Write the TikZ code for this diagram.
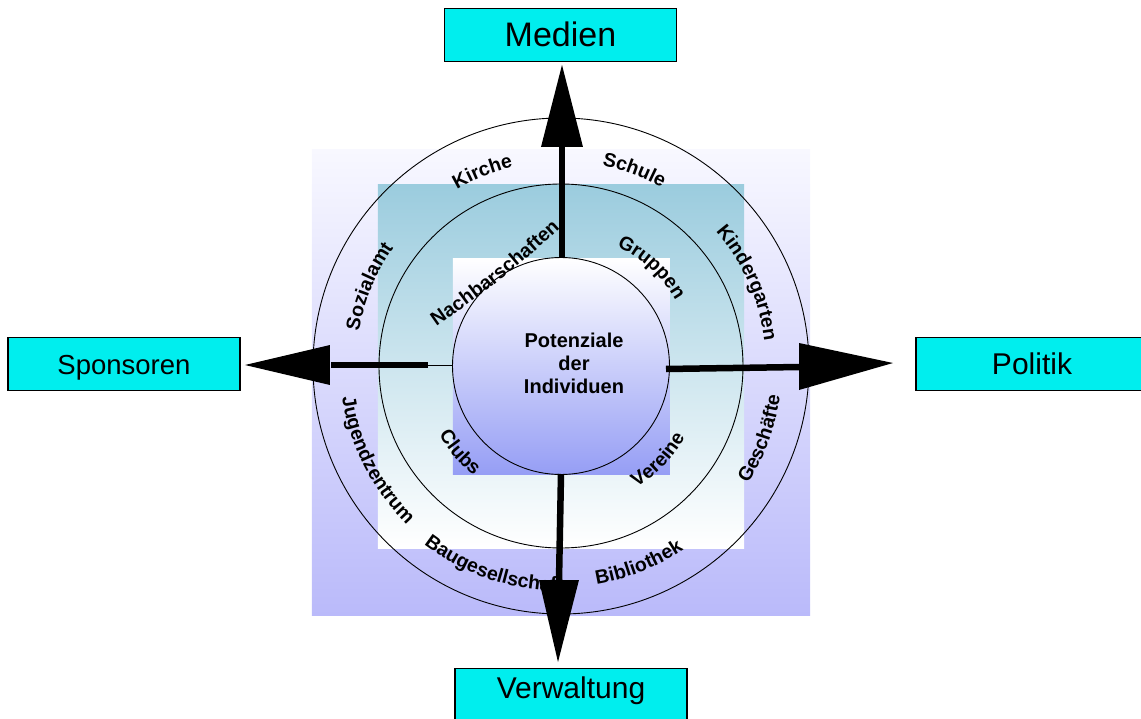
\documentclass[tikz,border=0pt]{standalone}
\usepackage{fontspec}
\setmainfont{Liberation Sans}
\usetikzlibrary{decorations.text}
\definecolor{boxcyan}{RGB}{0,238,238}
\definecolor{outertop}{RGB}{248,248,255}
\definecolor{outerbot}{RGB}{186,186,250}
\definecolor{midtop}{RGB}{155,204,222}
\definecolor{innerbot}{RGB}{150,158,245}
\newcommand\lblfont{\bfseries\fontsize{19.5}{20}\selectfont}
\tikzset{
  ring/.style={draw=black, line width=0.9pt},
  arclbl/.style={decorate, decoration={text along path, text={|\lblfont|#1}, text align=center}},
  shaft/.style={line width=6.5pt, black},
  head/.style={fill=black},
  outbox/.style={draw=black, line width=1.1pt, fill=boxcyan,
    minimum width=232pt, minimum height=53pt, text height=21.5pt, text depth=0pt, inner sep=0pt},
}
\begin{document}
\begin{tikzpicture}[x=1pt,y=1pt]
\useasboundingbox (-561,-352) rectangle (580,366);
% squares
\shade[top color=outertop, bottom color=outerbot] (-249,216) rectangle (249,-249);
\shade[top color=midtop, bottom color=white] (-183,181) rectangle (183,-182);
\shade[top color=white, bottom color=innerbot] (-108,108) rectangle (109,-108);
% circles
\node[ring, circle, minimum size=496pt, inner sep=0pt] (outer) at (0,0) {};
\node[ring, circle, minimum size=364pt, inner sep=0pt] (middle) at (0,0) {};
\node[ring, circle, minimum size=217pt, inner sep=0pt] (inner) at (0,0) {};
% centre text
\node[font=\bfseries\fontsize{20}{23}\selectfont, align=center] (pot) at (13,3) {Potenziale\\der\\Individuen};
% outer ring labels, upper half
\path[arclbl=Sozialamt] (185.5:205) arc[start angle=185.5, end angle=129.5, radius=205];
\path[arclbl=Kirche] (140:205) arc[start angle=140, end angle=84, radius=205];
\path[arclbl=Schule] (97.5:205) arc[start angle=97.5, end angle=41.5, radius=205];
\path[arclbl=Kindergarten] (52:205) arc[start angle=52, end angle=-4, radius=205];
% outer ring labels, lower half
\path[arclbl=Jugendzentrum] (179:221) arc[start angle=179, end angle=235, radius=221];
\path[arclbl=Baugesellschaft] (223.5:225) arc[start angle=223.5, end angle=279.5, radius=225];
\path[arclbl=Bibliothek] (263.5:221) arc[start angle=263.5, end angle=319.5, radius=221];
\path[arclbl=Geschäfte] (312:221) arc[start angle=312, end angle=368, radius=221];
% middle ring labels
\path[arclbl=Nachbarschaften] (-131,35) to[bend right=4] (5,143);
\path[arclbl=Gruppen] (77.4:132) arc[start angle=77.4, end angle=17.4, radius=132];
\path[arclbl=Clubs] (190.5:140) arc[start angle=190.5, end angle=250.5, radius=140];
\path[arclbl=Vereine] (286:143) arc[start angle=286, end angle=346, radius=143];
% arrow coordinates
\coordinate (uS) at (1,108); \coordinate (uE) at (1,220);
\coordinate (uL) at (-20,219); \coordinate (uR) at (22,219); \coordinate (uT) at (1,301);
\coordinate (lS) at (-133,1); \coordinate (lE) at (-230,1); \coordinate (lI) at (-108,1);
\coordinate (lA) at (-231,21); \coordinate (lB) at (-231,-19); \coordinate (lT) at (-316,1);
\coordinate (rS) at (105,-3); \coordinate (rE) at (239,-1);
\coordinate (rA) at (238,23); \coordinate (rB) at (238,-24); \coordinate (rT) at (332,3);
\coordinate (dS) at (0,-108); \coordinate (dE) at (-2,-215);
\coordinate (dL) at (-22,-214); \coordinate (dR) at (18,-214); \coordinate (dT) at (-3,-296);
% arrows
\draw[shaft] (uS) -- (uE);
\fill[head] (uL) -- (uT) -- (uR) -- cycle;
\draw[black, line width=0.8pt] (lI) -- (lS);
\draw[shaft] (lS) -- (lE);
\fill[head] (lA) -- (lT) -- (lB) -- cycle;
\draw[shaft] (rS) -- (rE);
\fill[head] (rA) -- (rT) -- (rB) -- cycle;
\draw[shaft] (dS) -- (dE);
\fill[head] (dL) -- (dT) -- (dR) -- cycle;
% outside boxes
\node[outbox, font=\fontsize{34}{36}\selectfont, text height=24pt] (medien) at (-0.5,331) {Medien};
\node[outbox, font=\fontsize{27.5}{30}\selectfont, text height=20pt] (sponsoren) at (-437,2) {Sponsoren};
\node[outbox, font=\fontsize{30}{32}\selectfont] (politik) at (471,2) {Politik};
\node[outbox, font=\fontsize{30}{32}\selectfont, anchor=north, text depth=30pt, minimum height=0pt, inner ysep=8pt] (verwaltung) at (10,-302) {Verwaltung};
\end{tikzpicture}
\end{document}
